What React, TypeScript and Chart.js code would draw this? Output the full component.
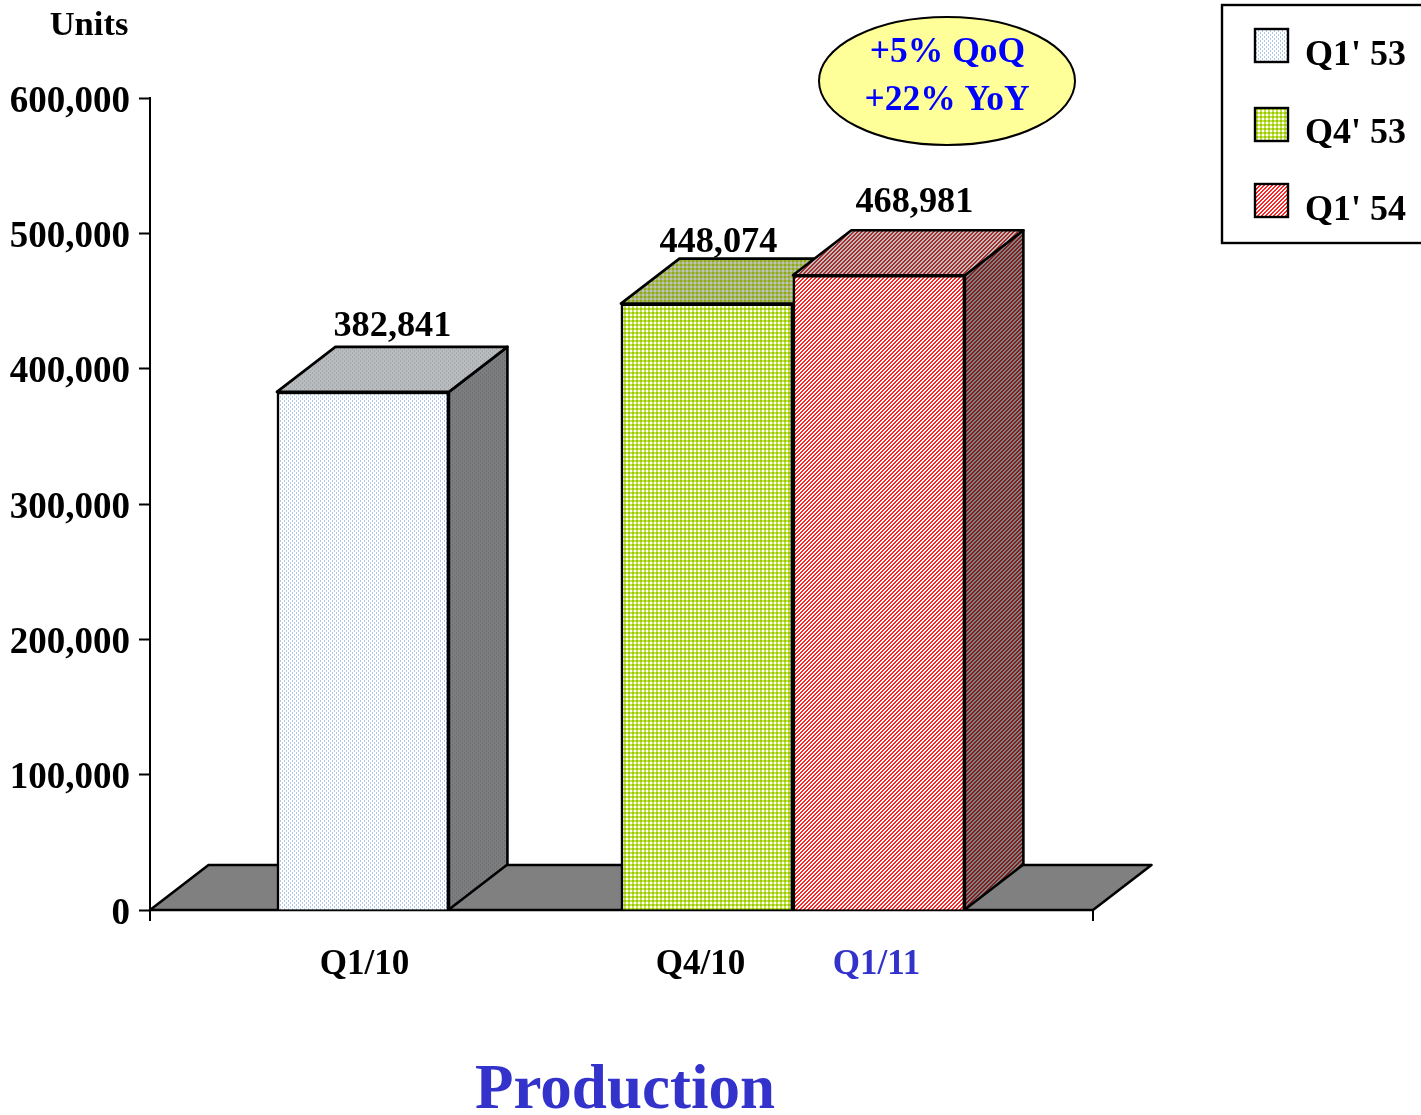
import React, { useEffect, useRef } from "react";
import { Chart, registerables } from "chart.js";

Chart.register(...registerables);

// ---- data ----
const seriesNames = ["Q1' 53", "Q4' 53", "Q1' 54"];
const seriesValues = [382841, 448074, 468981];
const barSlots = [1, 3, 4];
const categoryLabels = ["Q1/10", "Q4/10", "Q1/11"];
const categoryTickSlots = [1.009, 2.963, 3.986];
const yTickStep = 100000;
const yMax = 600000;
const unitsLabel = "Units";
const titleText = "Production";
const bubbleLines = ["+5% QoQ", "+22% YoY"];

// ---- style ----
const SERIF = '"Liberation Serif", "Times New Roman", serif';
const TITLE_BLUE = "#3333CC";
const X_MIN = -0.238;
const X_MAX = 5.245;
const DEPTH_X = 58.5;
const DEPTH_Y = 45;
const OUTLINE = 2.6;
const LABEL_NUDGE = [
  { dx: 29.5, dy: -11 },
  { dx: 11.5, dy: -7 },
  { dx: 35.5, dy: -18 },
];
const LEGEND_SWATCH_Y = [29, 108, 184];
const LEGEND_TEXT_Y = [65, 143, 220];

type Kind = "dots" | "grid" | "hatch";
function makePattern(kind: Kind, bg: string, fg: string, mid?: string): CanvasPattern {
  const c = document.createElement("canvas");
  c.width = 4;
  c.height = 4;
  const g = c.getContext("2d")!;
  g.fillStyle = bg;
  g.fillRect(0, 0, 4, 4);
  if (kind === "dots") {
    g.fillStyle = fg;
    g.fillRect(0, 0, 1, 2);
    g.fillRect(2, 2, 1, 2);
  } else if (kind === "grid") {
    g.fillStyle = mid || fg;
    g.fillRect(0, 0, 4, 2);
    g.fillRect(0, 0, 2, 4);
    g.fillStyle = fg;
    g.fillRect(0, 0, 2, 2);
  } else {
    g.fillStyle = fg;
    g.fillRect(0, 0, 2, 1);
    g.fillRect(3, 1, 1, 1);
    g.fillRect(0, 1, 1, 1);
    g.fillRect(2, 2, 2, 1);
    g.fillRect(1, 3, 2, 1);
  }
  return g.createPattern(c, "repeat")!;
}

export default function App() {
  const ref = useRef<HTMLCanvasElement | null>(null);

  useEffect(() => {
    const front = [
      makePattern("dots", "#FFFFFF", "#AFC8E8"),
      makePattern("grid", "#FFFFFF", "#99CC00", "#C4E150"),
      makePattern("hatch", "#FFFFFF", "#FF2424"),
    ];
    const top = [
      makePattern("dots", "#BBBBBB", "#9EA9B6"),
      makePattern("grid", "#C0C0C0", "#8CAA1E", "#A8B862"),
      makePattern("hatch", "#BDBDBD", "#A82A2A"),
    ];
    const side = [
      makePattern("dots", "#7E7E7E", "#6A7078"),
      makePattern("grid", "#808080", "#5E7A00", "#6E8020"),
      makePattern("hatch", "#808080", "#7E1E1E"),
    ];

    const poly = (g: CanvasRenderingContext2D, pts: number[][], fill: any) => {
      g.beginPath();
      pts.forEach((p, i) => (i ? g.lineTo(p[0], p[1]) : g.moveTo(p[0], p[1])));
      g.closePath();
      g.fillStyle = fill;
      g.fill();
      g.lineJoin = "round";
      g.strokeStyle = "#000";
      g.lineWidth = OUTLINE;
      g.stroke();
    };

    const prism = {
      id: "prism",
      beforeDatasetsDraw(chart: any) {
        const { ctx: g, chartArea: a, scales } = chart;
        g.save();
        poly(
          g,
          [
            [a.left, a.bottom],
            [a.left + DEPTH_X, a.bottom - DEPTH_Y],
            [a.right + DEPTH_X, a.bottom - DEPTH_Y],
            [a.right, a.bottom],
          ],
          "#808080"
        );
        // the category axis has tick marks at its two ends only
        g.strokeStyle = "#000";
        g.lineWidth = 2;
        [X_MIN, X_MAX].forEach((v) => {
          const px = scales.x.getPixelForValue(v);
          g.beginPath();
          g.moveTo(px, a.bottom);
          g.lineTo(px, a.bottom + 11);
          g.stroke();
        });
        g.restore();
      },
      beforeDatasetDraw(chart: any, args: any) {
        const g = chart.ctx;
        const i = args.index;
        const el = args.meta.data[0];
        const l = el.x - el.width / 2;
        const r = el.x + el.width / 2;
        g.save();
        poly(
          g,
          [
            [r, el.base],
            [r + DEPTH_X, el.base - DEPTH_Y],
            [r + DEPTH_X, el.y - DEPTH_Y],
            [r, el.y],
          ],
          side[i]
        );
        poly(
          g,
          [
            [l, el.y],
            [l + DEPTH_X, el.y - DEPTH_Y],
            [r + DEPTH_X, el.y - DEPTH_Y],
            [r, el.y],
          ],
          top[i]
        );
        g.restore();
      },
      afterDatasetsDraw(chart: any) {
        const g = chart.ctx;
        g.save();
        // value labels
        g.font = `bold 36.3px ${SERIF}`;
        g.fillStyle = "#000";
        g.textAlign = "center";
        g.textBaseline = "alphabetic";
        chart.data.datasets.forEach((d: any, i: number) => {
          const el = chart.getDatasetMeta(i).data[0];
          const n = LABEL_NUDGE[i];
          g.fillText(
            d.data[0].y.toLocaleString("en-US"),
            el.x + n.dx,
            el.y - DEPTH_Y + n.dy
          );
        });

        // axis caption
        g.font = `bold 34.5px ${SERIF}`;
        g.fillText(unitsLabel, 89, 35);

        // bubble
        g.beginPath();
        g.ellipse(947, 81, 128, 64, 0, 0, Math.PI * 2);
        g.fillStyle = "#FFFF99";
        g.fill();
        g.strokeStyle = "#000";
        g.lineWidth = 2;
        g.stroke();
        g.fillStyle = "#0000FF";
        g.font = `bold 35.5px ${SERIF}`;
        g.fillText(bubbleLines[0], 947.5, 62);
        g.fillText(bubbleLines[1], 947, 110);

        // title
        g.fillStyle = TITLE_BLUE;
        g.font = `bold 63px ${SERIF}`;
        g.fillText(titleText, 625, 1108);

        // legend
        g.strokeStyle = "#000";
        g.lineWidth = 2.4;
        g.strokeRect(1222, 5, 210, 238);
        g.textAlign = "left";
        g.font = `bold 36px ${SERIF}`;
        chart.data.datasets.forEach((d: any, i: number) => {
          g.fillStyle = front[i];
          g.fillRect(1255, LEGEND_SWATCH_Y[i], 33, 33);
          g.strokeRect(1255, LEGEND_SWATCH_Y[i], 33, 33);
          g.fillStyle = "#000";
          g.fillText(d.label, 1305, LEGEND_TEXT_Y[i]);
        });
        g.restore();
      },
    };

    const chart = new Chart(ref.current!, {
      type: "bar",
      data: {
        datasets: seriesNames.map((name, i) => ({
          label: name,
          data: [{ x: barSlots[i], y: seriesValues[i] }],
          backgroundColor: front[i],
          borderColor: "#000",
          borderWidth: OUTLINE,
          barThickness: 172,
          grouped: false,
          order: seriesNames.length - i,
        })),
      },
      options: {
        responsive: false,
        animation: false,
        devicePixelRatio: 1,
        layout: { padding: { top: 98, right: 328, bottom: 0, left: 0 } },
        plugins: {
          legend: { display: false },
          title: { display: false },
          tooltip: { enabled: false },
        },
        scales: {
          x: {
            type: "linear",
            min: X_MIN,
            max: X_MAX,
            offset: false,
            afterBuildTicks: (s: any) => {
              s.ticks = categoryTickSlots.map((value) => ({ value }));
            },
            afterFit: (s: any) => {
              s.height = 205;
            },
            border: { color: "#000", width: 2 },
            grid: {
              drawOnChartArea: false,
              tickLength: 11,
              tickColor: "rgba(0,0,0,0)",
            },
            ticks: {
              autoSkip: false,
              maxRotation: 0,
              padding: 23,
              font: { family: SERIF, size: 35, weight: "bold" },
              color: (c: any) => (c.index === 2 ? TITLE_BLUE : "#000"),
              callback: (_v: any, i: number) => categoryLabels[i],
            },
          },
          y: {
            min: 0,
            max: yMax,
            afterFit: (s: any) => {
              s.width = 150;
            },
            border: { color: "#000", width: 2 },
            grid: {
              drawOnChartArea: false,
              tickLength: 11,
              tickWidth: 2,
              tickColor: "#000",
            },
            ticks: {
              stepSize: yTickStep,
              padding: 9,
              labelOffset: 4,
              font: { family: SERIF, size: 37, weight: "bold" },
              color: "#000",
              callback: (v: any) => Number(v).toLocaleString("en-US"),
            },
          },
        },
      } as any,
      plugins: [prism],
    } as any);

    return () => chart.destroy();
  }, []);

  return (
    <div style={{ position: "fixed", left: 0, top: 0, width: 1421, height: 1115, overflow: "hidden", background: "#fff" }}>
      <canvas ref={ref} width={1421} height={1115} style={{ display: "block" }} />
    </div>
  );
}
